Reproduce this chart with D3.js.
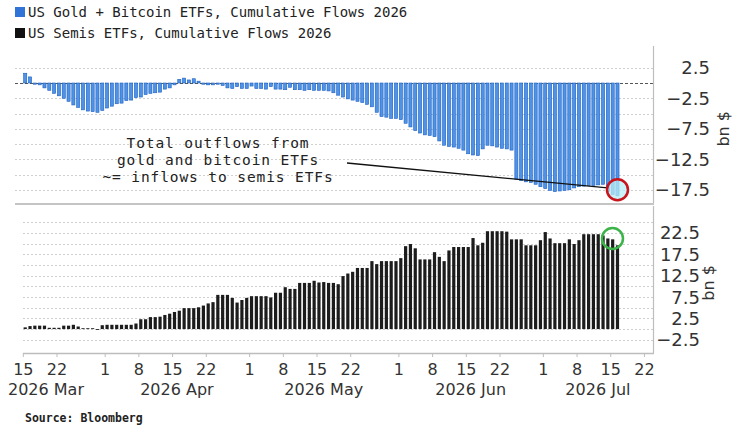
<!DOCTYPE html>
<html><head><meta charset="utf-8">
<script src="https://cdn.jsdelivr.net/npm/d3@7"></script>
<style>html,body{margin:0;padding:0;background:#fff;} svg{display:block}</style>
</head><body><svg id="c" width="732" height="432"></svg>
<script>
// ---------- data ----------
const startDate = "2026-03-15";
const goldBtcFlows = [
  1.6, 1.0, -0.2, -0.3, -0.8, -1.2, -1.7, -2.1, -2.5, -3.0,
  -3.6, -4.0, -4.4, -4.6, -4.7, -4.8, -4.5, -4.1, -3.8, -3.4,
  -3.3, -2.9, -2.8, -2.4, -2.3, -1.9, -1.7, -1.6, -1.5, -1.0,
  -0.8, -0.3, 0.6, 0.8, 0.5, 0.7, 0.3, -0.2, -0.3, -0.3,
  -0.2, -0.4, -0.8, -0.9, -0.6, -0.9, -0.9, -0.5, -0.9, -0.9,
  -1.0, -0.6, -1.0, -1.0, -1.1, -0.7, -1.1, -1.1, -1.2, -1.1,
  -1.2, -1.2, -1.2, -1.3, -1.6, -2.0, -2.3, -2.6, -2.8, -3.0,
  -3.2, -3.5, -3.9, -4.8, -5.5, -5.6, -5.8, -5.8, -6.0, -6.6,
  -7.2, -7.8, -8.2, -8.5, -8.6, -8.8, -9.5, -10.2, -10.4, -10.5,
  -10.7, -11.0, -11.6, -11.8, -11.9, -10.8, -10.2, -10.3, -10.5, -10.7,
  -10.8, -11.0, -15.8, -16.0, -16.2, -16.3, -16.6, -17.0, -17.3, -17.6,
  -17.8, -17.7, -17.6, -17.5, -17.2, -17.0, -16.9, -16.8, -16.8, -16.7,
  -16.6, -17.8, -18.3, -18.5
];
const semisFlows = [
  0.4, 0.7, 0.8, 0.8, 0.8, 0.3, 0.3, 0.3, 0.8, 0.8,
  1.0, 0.6, 0.2, 0.2, 0.2, -0.2, 0.9, 1.0, 1.0, 1.0,
  1.0, 1.0, 1.0, 1.3, 2.3, 2.3, 2.8, 2.8, 2.9, 3.3,
  3.6, 4.0, 4.3, 4.9, 4.9, 4.9, 5.1, 5.5, 6.0, 6.3,
  8.0, 8.0, 8.0, 7.3, 6.2, 6.8, 7.3, 7.7, 7.7, 7.7,
  7.7, 7.4, 8.5, 8.5, 9.8, 9.4, 9.4, 10.8, 10.8, 10.8,
  11.3, 10.9, 11.0, 10.8, 10.8, 10.5, 12.4, 13.0, 13.4, 14.3,
  14.3, 14.3, 15.9, 15.2, 15.9, 15.9, 15.9, 15.9, 16.6, 19.4,
  19.9, 18.9, 16.3, 16.3, 16.3, 18.0, 16.9, 15.9, 18.4, 19.2,
  19.2, 19.2, 19.2, 21.3, 19.6, 20.2, 22.9, 22.9, 22.9, 22.9,
  22.8, 21.0, 21.0, 21.0, 19.6, 19.6, 19.6, 20.8, 22.7, 21.2,
  20.1, 20.1, 20.1, 21.0, 19.9, 20.8, 22.2, 22.2, 22.2, 22.2,
  21.9, 21.2, 21.0, 19.6
];
const seriesNames = ["US Gold + Bitcoin ETFs, Cumulative Flows 2026", "US Semis ETFs, Cumulative Flows 2026"];
const topTicks = [2.5, -2.5, -7.5, -12.5, -17.5];
const bottomTicks = [22.5, 17.5, 12.5, 7.5, 2.5, -2.5];
const xTickDates = ["2026-03-15","2026-03-22","2026-04-01","2026-04-08","2026-04-15","2026-04-22",
  "2026-05-01","2026-05-08","2026-05-15","2026-05-22","2026-06-01","2026-06-08","2026-06-15","2026-06-22",
  "2026-07-01","2026-07-08","2026-07-15","2026-07-22"];
const monthStarts = ["2026-03-01","2026-04-01","2026-05-01","2026-06-01","2026-07-01"];
const monthNames = ["2026 Mar","2026 Apr","2026 May","2026 Jun","2026 Jul"];
const unitLabel = "bn $";
const annotationLines = ["Total outflows from", "gold and bitcoin ETFs", "~= inflows to semis ETFs"];
const sourceText = "Source: Bloomberg";

// ---------- setup ----------
const parse = d3.timeParse("%Y-%m-%d");
const start = parse(startDate);
const dates = goldBtcFlows.map((_, i) => d3.timeDay.offset(start, i));
const svg = d3.select("#c");
const L = 18, R = 653;
const TOP = {y0: 50, y1: 203};
const BOT = {y0: 206, y1: 353};
const mono = "'DejaVu Sans Mono', 'Liberation Mono', monospace";
const sans = "'DejaVu Sans', Verdana, sans-serif";

const x = d3.scaleTime()
  .domain([d3.timeDay.offset(start, -1), d3.timeHour.offset(parse("2026-07-23"), 21)])
  .range([L, R]);
const yTop = d3.scaleLinear().domain([-19.67, 5.41]).range([TOP.y1, TOP.y0]);
const yBot = d3.scaleLinear().domain([-5.6, 28.8]).range([BOT.y1, BOT.y0]);

// ---------- gridlines ----------
const gTop = svg.append("g");
gTop.selectAll("line.g").data(d3.range(-17.5, 5, 2.5).filter(v => Math.abs(v) > 1e-6))
  .join("line").attr("x1", 15).attr("x2", R)
  .attr("y1", d => Math.round(yTop(d)) + 0.5).attr("y2", d => Math.round(yTop(d)) + 0.5)
  .attr("stroke", "#cfcfcf").attr("stroke-dasharray", "2,2");
gTop.append("line").attr("x1", 15).attr("x2", R)
  .attr("y1", Math.round(yTop(0)) + 0.5).attr("y2", Math.round(yTop(0)) + 0.5)
  .attr("stroke", "#555").attr("stroke-dasharray", "3,2");

const gBot = svg.append("g");
gBot.selectAll("line.g").data(d3.range(-2.5, 26, 2.5))
  .join("line").attr("x1", 23).attr("x2", R)
  .attr("y1", d => Math.round(yBot(d)) + 0.5).attr("y2", d => Math.round(yBot(d)) + 0.5)
  .attr("stroke", "#cfcfcf").attr("stroke-dasharray", "2,2");

// ---------- bars ----------
const dayW = x(d3.timeDay.offset(start, 1)) - x(start);
const bwTop = 3.1, bwBot = 3.2;
gTop.selectAll("rect").data(goldBtcFlows).join("rect")
  .attr("x", (d, i) => x(dates[i]) + (dayW - bwTop) / 2)
  .attr("width", bwTop)
  .attr("y", d => yTop(Math.max(0, d)))
  .attr("height", d => Math.max(0.8, Math.abs(yTop(d) - yTop(0))))
  .attr("fill", "#4f93e6").attr("stroke", "#1d5fc2").attr("stroke-width", 0.6);

gBot.selectAll("rect").data(semisFlows).join("rect")
  .attr("x", (d, i) => x(dates[i]) + (dayW - bwBot) / 2)
  .attr("width", bwBot)
  .attr("y", d => yBot(Math.max(0, d)))
  .attr("height", d => Math.max(0.8, Math.abs(yBot(d) - yBot(0))))
  .attr("fill", "#1c1c1c");

// ---------- frames ----------
svg.append("line").attr("x1", R + 0.5).attr("x2", R + 0.5).attr("y1", TOP.y0 - 4).attr("y2", TOP.y1)
  .attr("stroke", "#bdbdbd").attr("stroke-width", 1.2);
svg.append("line").attr("x1", 15).attr("x2", R + 1).attr("y1", 204).attr("y2", 204)
  .attr("stroke", "#c4c4c4").attr("stroke-width", 2);
svg.append("line").attr("x1", R + 0.5).attr("x2", R + 0.5).attr("y1", BOT.y0).attr("y2", BOT.y1)
  .attr("stroke", "#bdbdbd").attr("stroke-width", 1.2);

// ---------- x axis ----------
const xAxis = d3.axisBottom(x).tickValues(xTickDates.map(parse)).tickSize(4).tickFormat(d3.timeFormat("%-d"));
const gx = svg.append("g").attr("transform", `translate(0,${BOT.y1})`).call(xAxis);
gx.select(".domain").attr("d", `M23,0.5H${R + 1}`).attr("stroke", "#bdbdbd").attr("stroke-width", 1.5);
gx.selectAll(".tick line").attr("stroke", "#bdbdbd");
gx.selectAll(".tick text").attr("font-family", sans).attr("font-size", 16).attr("fill", "#333").attr("y", 11).attr("dy", "0.71em");

const xEnd = x.domain()[1];
monthStarts.forEach((ms, i) => {
  const s = parse(ms);
  const e = d3.timeMonth.offset(s, 1);
  const t = svg.append("text").attr("y", 395).attr("font-family", sans).attr("font-size", 16).attr("fill", "#333").text(monthNames[i]);
  if (s < x.domain()[0]) {
    t.attr("x", 8).attr("text-anchor", "start");
  } else {
    const cx = (x(s) + x(e < xEnd ? e : xEnd)) / 2;
    t.attr("x", cx).attr("text-anchor", "middle");
  }
});

// ---------- y labels ----------
svg.append("g").selectAll("text").data(topTicks).join("text")
  .attr("x", 710).attr("y", d => yTop(d)).attr("dy", "0.36em").attr("text-anchor", "end")
  .attr("font-family", sans).attr("font-size", 18).attr("fill", "#333").text(d => d3.format(".1f")(d));
svg.append("g").selectAll("text").data(bottomTicks).join("text")
  .attr("x", 700).attr("y", d => yBot(d)).attr("dy", "0.36em").attr("text-anchor", "end")
  .attr("font-family", sans).attr("font-size", 18).attr("fill", "#333").text(d => d3.format(".1f")(d));
svg.append("text").attr("transform", `translate(723,${yTop(-7.5)}) rotate(-90)`).attr("text-anchor", "middle").attr("dy", "0.35em")
  .attr("font-family", sans).attr("font-size", 16).attr("fill", "#333").text(unitLabel);
svg.append("text").attr("transform", `translate(708,${yBot(10.8)}) rotate(-90)`).attr("text-anchor", "middle").attr("dy", "0.35em")
  .attr("font-family", sans).attr("font-size", 16).attr("fill", "#333").text(unitLabel);

// ---------- legend ----------
const legColors = ["#2f74d6", "#111"];
seriesNames.forEach((n, i) => {
  svg.append("rect").attr("x", 15).attr("y", 7 + i * 21).attr("width", 10).attr("height", 10).attr("fill", legColors[i]);
  svg.append("text").attr("x", 28).attr("y", 16.5 + i * 21.5).attr("font-family", mono).attr("font-size", 14).attr("fill", "#222").text(n);
});

// ---------- annotation ----------
annotationLines.forEach((t, i) => {
  svg.append("text").attr("x", 218).attr("y", 148 + i * 17).attr("text-anchor", "middle")
    .attr("font-family", mono).attr("font-size", 14.5).attr("letter-spacing", 0.9).attr("fill", "#222").text(t);
});
const lastI = goldBtcFlows.length - 1;
const lastX = x(dates[lastI]) + dayW / 2;
svg.append("line").attr("x1", 347).attr("y1", 163).attr("x2", lastX - 10).attr("y2", yTop(-17.2))
  .attr("stroke", "#111").attr("stroke-width", 1.3);
svg.append("circle").attr("cx", lastX).attr("cy", yTop(-17.5)).attr("r", 10.5)
  .attr("fill", "rgba(185,238,246,0.75)").attr("stroke", "#c8141c").attr("stroke-width", 2.5);
svg.append("circle").attr("cx", lastX - 5).attr("cy", yBot(21.2)).attr("r", 10.5)
  .attr("fill", "none").attr("stroke", "#3cb44a").attr("stroke-width", 2.5);

// ---------- source ----------
svg.append("text").attr("x", 25).attr("y", 422).attr("font-family", mono).attr("font-weight", "bold")
  .attr("font-size", 11.5).attr("fill", "#222").text(sourceText);
</script></body></html>
